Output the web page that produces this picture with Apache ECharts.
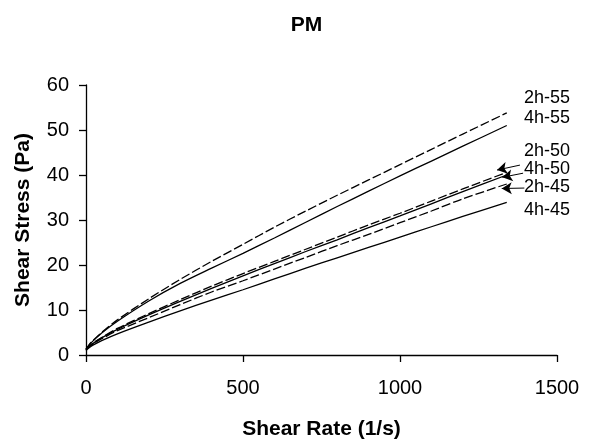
<!DOCTYPE html>
<html>
<head>
<meta charset="utf-8">
<script src="https://cdn.jsdelivr.net/npm/echarts@6/dist/echarts.min.js"></script>
<style>
  html, body { margin: 0; padding: 0; background: #fff; }
  #chart { width: 613px; height: 440px; }
</style>
</head>
<body>
<div id="chart"></div>
<script>
// shear rate (1/s) shared by all curves
var rates = [0, 10, 25, 50, 100, 200, 300, 400, 500, 600, 700, 800, 900, 1000, 1100, 1200, 1340];

// shear stress (Pa)
var s2h55 = [1.2, 2.3, 3.4, 5.0, 7.8, 12.5, 16.8, 20.8, 24.6, 28.4, 32.0, 35.5, 38.9, 42.3, 45.7, 49.1, 53.8];
var s4h55 = [1.2, 2.2, 3.3, 4.9, 7.5, 12.0, 15.9, 19.3, 22.6, 26.0, 29.5, 33.0, 36.4, 39.8, 43.1, 46.4, 51.0];
var s2h50 = [1.3, 2.0, 2.8, 3.9, 5.9, 9.2, 12.3, 15.3, 18.1, 20.8, 23.5, 26.2, 28.9, 31.5, 34.2, 36.9, 40.6];
var s4h50 = [1.3, 1.9, 2.7, 3.8, 5.7, 8.9, 11.9, 14.8, 17.6, 20.3, 23.0, 25.6, 28.3, 30.9, 33.6, 36.3, 40.0];
var s2h45 = [1.2, 1.8, 2.6, 3.6, 5.4, 8.3, 11.2, 14.0, 16.5, 19.1, 21.7, 24.3, 26.8, 29.4, 32.0, 34.7, 38.0];
var s4h45 = [1.0, 1.6, 2.3, 3.2, 4.7, 7.3, 9.8, 12.2, 14.5, 16.9, 19.3, 21.6, 23.9, 26.2, 28.5, 30.8, 33.9];

var names = ['2h-55', '4h-55', '2h-50', '4h-50', '2h-45', '4h-45'];
var values = [s2h55, s4h55, s2h50, s4h50, s2h45, s4h45];
var dashed = [true, false, true, false, true, false];

// right-hand labels (pixel y of text centre)
var labelY = [99, 119, 152, 170, 188, 211];

var FONT = '"Liberation Sans", Arial, sans-serif';

function pairs(ys) {
    return rates.map(function (r, i) { return [r, ys[i]]; });
}

var dom = document.getElementById('chart');
var myChart = echarts.init(dom);

var series = names.map(function (n, i) {
    return {
        name: n,
        type: 'line',
        data: pairs(values[i]),
        showSymbol: false,
        smooth: 0.3,
        silent: true,
        lineStyle: {
            color: '#000',
            width: 1.3,
            type: dashed[i] ? [9, 3] : 'solid'
        }
    };
});

// little arrows from the labels to the end of the 50/45 curves
series.push({
    type: 'line',
    data: [],
    markLine: {
        silent: true,
        symbol: ['none', 'arrow'],
        symbolSize: [9, 10],
        label: { show: false },
        lineStyle: { color: '#000', width: 1, type: 'solid' },
        data: [
            [{ coord: [1382, 42.2] }, { coord: [1309, 41.1] }],
            [{ coord: [1392, 40.4] }, { coord: [1326, 39.5] }],
            [{ coord: [1396, 37.1] }, { coord: [1324, 37.0] }]
        ]
    }
});

var labels = names.map(function (n, i) {
    return {
        type: 'text',
        left: 524,
        top: labelY[i] - 10,
        style: { text: n, fill: '#000', font: '18px ' + FONT }
    };
});

var option = {
    animation: false,
    backgroundColor: '#fff',
    title: {
        text: 'PM',
        left: 'center',
        top: 10,
        textStyle: { fontFamily: FONT, fontSize: 21, fontWeight: 'bold', color: '#000' }
    },
    grid: { left: 86, right: 56, top: 85, bottom: 85, outerBoundsMode: 'none' },
    xAxis: {
        type: 'value',
        min: 0,
        max: 1500,
        interval: 500,
        name: 'Shear Rate (1/s)',
        nameLocation: 'middle',
        nameGap: 64,
        nameTextStyle: { fontFamily: FONT, fontSize: 21, fontWeight: 'bold', color: '#000' },
        axisLine: { lineStyle: { color: '#000', width: 1.3 } },
        axisTick: { inside: false, length: 7, lineStyle: { color: '#000', width: 1.3 } },
        axisLabel: {
            margin: 23, fontFamily: FONT, fontSize: 20, color: '#000',
            formatter: function (v) { return String(v); }
        },
        splitLine: { show: false }
    },
    yAxis: {
        type: 'value',
        min: 0,
        max: 60,
        interval: 10,
        name: 'Shear Stress (Pa)',
        nameLocation: 'middle',
        nameGap: 52,
        nameTextStyle: { fontFamily: FONT, fontSize: 21, fontWeight: 'bold', color: '#000' },
        axisLine: { show: true, lineStyle: { color: '#000', width: 1.3 } },
        axisTick: { show: true, length: 7, lineStyle: { color: '#000', width: 1.3 } },
        axisLabel: { margin: 17, fontFamily: FONT, fontSize: 20, color: '#000' },
        splitLine: { show: false }
    },
    graphic: labels,
    series: series
};

if (option && typeof option === 'object') {
    myChart.setOption(option, true);
}

window.addEventListener('resize', function () {
    myChart.resize();
});
</script>
</body>
</html>
